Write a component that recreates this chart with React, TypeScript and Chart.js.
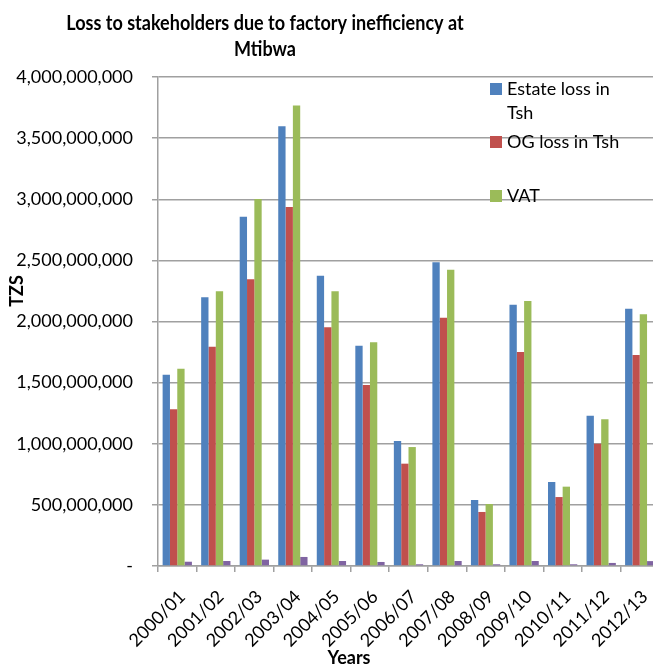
import { useEffect, useRef } from 'react';
import { Chart, registerables } from 'chart.js';

Chart.register(...registerables);

const categories = ['2000/01', '2001/02', '2002/03', '2003/04', '2004/05', '2005/06', '2006/07', '2007/08', '2008/09', '2009/10', '2010/11', '2011/12', '2012/13'];
const estateLoss = [1565, 2198, 2857, 3597, 2375, 1802, 1022, 2484, 540, 2138, 687, 1230, 2105].map((v) => v * 1e6);
const ogLoss = [1282, 1794, 2345, 2937, 1952, 1480, 837, 2031, 442, 1750, 564, 1000, 1726].map((v) => v * 1e6);
const vat = [1614, 2247, 3002, 3766, 2247, 1830, 973, 2424, 507, 2168, 649, 1200, 2059].map((v) => v * 1e6);
const series4 = [35, 41, 52, 74, 41, 33, 14, 41, 14, 41, 14, 25, 40].map((v) => v * 1e6);
const seriesLabels = ['Estate loss in Tsh', 'OG loss in Tsh', 'VAT', 'Series4'];
const seriesColors = ['#4F81BD', '#C0504D', '#9BBB59', '#8064A2'];
const titleLines = ['Loss to stakeholders due to factory inefficiency at', 'Mtibwa'];
const yTitle = 'TZS';
const xTitle = 'Years';
const yMax = 4e9;
const yStep = 5e8;

const FONT = 'Lato, "Open Sans", sans-serif';
const CANVAS_W = 700;
const CANVAS_H = 666;

const textPlugin = {
  id: 'customText',
  afterDraw(chart: any) {
    const ctx = chart.ctx as CanvasRenderingContext2D;
    ctx.save();
    ctx.fillStyle = '#000';
    // Title (slightly condensed to mimic the original narrow face)
    ctx.font = `bold 20.5px ${FONT}`;
    ctx.textAlign = 'center';
    ctx.textBaseline = 'alphabetic';
    ctx.save();
    ctx.translate(265, 0);
    ctx.scale(0.88, 1);
    ctx.fillText(titleLines[0], 0, 30);
    ctx.fillText(titleLines[1], 0, 56);
    ctx.restore();
    // Axis titles
    ctx.font = `bold 18px ${FONT}`;
    ctx.fillText(xTitle, 349, 664);
    ctx.save();
    ctx.translate(17, 291);
    ctx.rotate(-Math.PI / 2);
    ctx.textBaseline = 'middle';
    ctx.fillText(yTitle, 0, 0);
    ctx.restore();
    // Legend
    const legendY = [89, 142, 196];
    ctx.font = `18px ${FONT}`;
    ctx.textAlign = 'left';
    ctx.textBaseline = 'middle';
    for (let i = 0; i < 3; i++) {
      const ds = chart.data.datasets[i];
      ctx.fillStyle = ds.backgroundColor;
      ctx.fillRect(490, legendY[i] - 6, 12, 12);
      ctx.fillStyle = '#000';
      const words = String(ds.label).split(' ');
      const lines: string[] = [];
      let cur = '';
      for (const w of words) {
        const test = cur ? cur + ' ' + w : w;
        if (ctx.measureText(test).width > 128 && cur) {
          lines.push(cur);
          cur = w;
        } else cur = test;
      }
      lines.push(cur);
      lines.forEach((l, j) => ctx.fillText(l, 507, legendY[i] + j * 24.5));
    }
    ctx.restore();
  },
};

export default function App() {
  const ref = useRef<HTMLCanvasElement>(null);
  useEffect(() => {
    document.body.style.margin = '0';
    const chart = new Chart(ref.current!, {
      type: 'bar',
      data: {
        labels: categories,
        datasets: [estateLoss, ogLoss, vat, series4].map((d, i) => ({
          label: seriesLabels[i],
          data: d,
          backgroundColor: seriesColors[i],
          borderWidth: 0,
          categoryPercentage: 0.76,
          barPercentage: 1,
        })),
      },
      options: {
        animation: false,
        responsive: false,
        maintainAspectRatio: false,
        devicePixelRatio: 1,
        layout: { padding: { top: 77, right: CANVAS_W - 659, left: 0, bottom: 0 } },
        plugins: {
          legend: { display: false },
          title: { display: false },
          tooltip: { enabled: false },
        },
        scales: {
          x: {
            afterFit: (s: any) => {
              s.height = 100;
            },
            grid: { offset: true, drawOnChartArea: false, drawTicks: true, tickLength: 6, color: '#a0a0a0', lineWidth: 1.5 },
            border: { color: '#a0a0a0', width: 1.5 },
            ticks: {
              autoSkip: false,
              maxRotation: 45,
              minRotation: 45,
              padding: 14,
              labelOffset: 5,
              color: '#000',
              font: { family: FONT, size: 18 },
            },
          },
          y: {
            min: 0,
            max: yMax,
            afterFit: (s: any) => {
              s.width = 158;
            },
            grid: { color: '#a0a0a0', lineWidth: 1.5, tickLength: 6 },
            border: { color: '#a0a0a0', width: 1.5 },
            ticks: {
              stepSize: yStep,
              padding: 19,
              color: '#000',
              font: { family: FONT, size: 18 },
              callback: (v: any) => (Number(v) === 0 ? '-' : Number(v).toLocaleString('en-US')),
            },
          },
        },
      },
      plugins: [textPlugin],
    });
    return () => chart.destroy();
  }, []);
  return (
    <div style={{ width: 653, height: 666, overflow: 'hidden', position: 'relative', background: '#fff' }}>
      <canvas ref={ref} width={CANVAS_W} height={CANVAS_H} style={{ display: 'block', width: CANVAS_W, height: CANVAS_H }} />
    </div>
  );
}
